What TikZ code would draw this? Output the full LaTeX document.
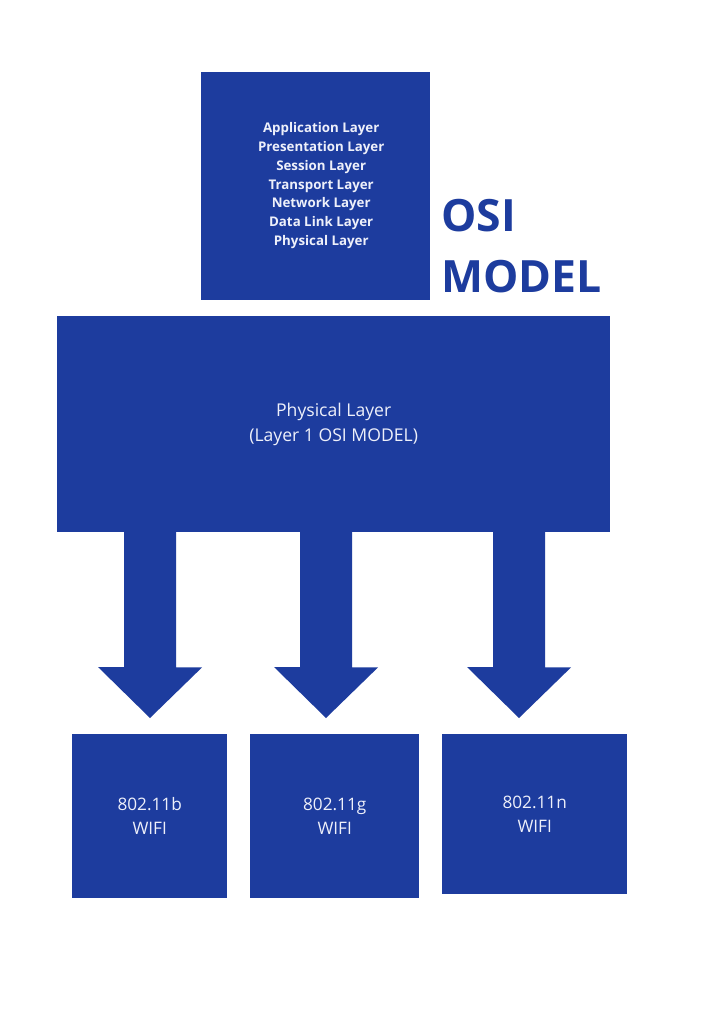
\documentclass[tikz,border=0pt]{standalone}
\usepackage{fontspec}
\setmainfont{Open Sans}
\usetikzlibrary{positioning,calc}
\usepackage{xcolor}
\definecolor{osiBlue}{HTML}{1D3C9E}
\definecolor{osiText}{HTML}{EEF0FA}

\begin{document}
\begin{tikzpicture}[x=1pt,y=-1pt,
  layerbox/.style={fill=osiBlue,text=osiText,align=center,inner sep=0pt,anchor=north west},
  wifibox/.style={layerbox,minimum height=164pt,font=\fontsize{17.2}{24.5}\selectfont},
  bigarrow/.style={fill=osiBlue}]
  \fill[white] (0,0) rectangle (724,1024);
  \useasboundingbox (0,0) rectangle (724,1024);
  \node[layerbox,minimum width=229pt,minimum height=228pt] (stack) at (201,72) {};
  \node[text=osiText,align=center,inner sep=0pt,
    font=\fontsize{13.3}{18.8}\selectfont\bfseries] (layers) at ($(stack.center)+(5.5,-0.5)$)
    {Application Layer\\Presentation Layer\\Session Layer\\Transport Layer\\Network Layer\\Data Link Layer\\Physical Layer};
  \node[anchor=west,inner sep=0pt,align=left,text=osiBlue,
    font=\fontsize{44.5}{61}\selectfont\bfseries] (title) at (441,246) {OSI\\MODEL};
  \node[layerbox,minimum width=553pt,minimum height=216pt,
    font=\fontsize{17.6}{25}\selectfont] (phy) at (57,316)
    {Physical Layer\\(Layer 1 OSI MODEL)};
  \node[wifibox,minimum width=155pt] (wifiB) at (72,734) {802.11b\\WIFI};
  \node[wifibox,minimum width=169pt] (wifiG) at (250,734) {802.11g\\WIFI};
  \node[wifibox,minimum width=185pt,minimum height=160pt] (wifiN) at (442,734) {802.11n\\WIFI};
  % thick arrows from the physical layer down to each standard
  \foreach \t/\x in {B/150,G/326,N/519}{
    \coordinate (tip\t) at (\x,718);
    \fill[bigarrow] (phy.south -| tip\t) ++(-26,-1) -- ++(52,0) -- ++(0,136) -- ++(26,0)
      -- (tip\t) -- ++(-52,-51) -- ++(26,0) -- cycle;
  }
\end{tikzpicture}
\end{document}
